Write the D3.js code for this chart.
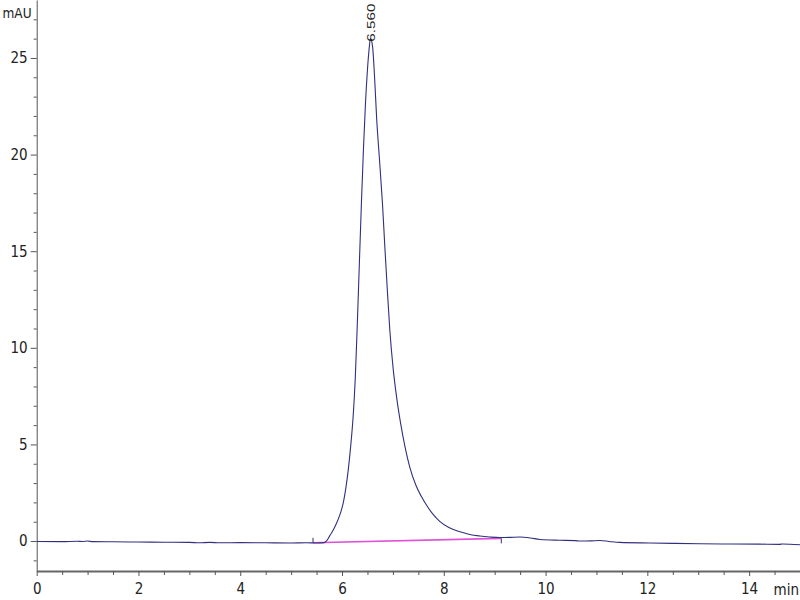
<!DOCTYPE html>
<html>
<head>
<meta charset="utf-8">
<script src="https://cdn.jsdelivr.net/npm/d3@7"></script>
<style>
html,body{margin:0;padding:0;background:#fff;}
svg{display:block;}
.lbl{font-family:"Liberation Sans Narrow","DejaVu Sans Condensed","Liberation Sans",Arial,sans-serif;font-size:15px;fill:#222;}
</style>
</head>
<body>
<svg id="chart" width="800" height="600"></svg>
<script>
// Chromatogram signal (time in min, absorbance in mAU)
const timeMin = [0, 0.5, 0.8, 0.9, 1.0, 1.1, 1.5, 2.0, 2.5, 3.0, 3.2, 3.4, 3.6, 4.0, 4.5, 5.0, 5.3, 5.5, 5.65,
  5.7, 5.76, 5.83, 5.894, 5.95, 6.024, 6.07, 6.122, 6.17, 6.22, 6.26, 6.30, 6.34, 6.38, 6.42, 6.46, 6.50, 6.53, 6.56,
  6.60, 6.64, 6.68, 6.74, 6.794, 6.84, 6.888, 6.94, 7.006, 7.07, 7.151, 7.24, 7.334, 7.45, 7.56, 7.662, 7.79, 7.92,
  8.1, 8.32, 8.51, 8.71, 8.9, 9.1, 9.3, 9.5, 9.7, 9.89, 10.28, 10.58, 10.68, 10.9, 11.07, 11.25, 11.46, 12.05,
  12.5, 13.03, 13.5, 14.21, 14.6, 14.65, 15.0];
const signalMAU = [-0.02, -0.03, -0.01, -0.02, 0.0, -0.03, -0.04, -0.05, -0.06, -0.07, -0.09, -0.07, -0.09, -0.08, -0.09, -0.1, -0.09, -0.1, -0.08,
  0.02, 0.28, 0.58, 0.93, 1.3, 1.97, 2.65, 3.67, 4.9, 6.5, 8.4, 11.2, 14.3, 17.4, 20.2, 22.6, 24.4, 25.4, 26.0,
  25.6, 24.0, 21.9, 19.6, 17.5, 15.3, 13.1, 10.9, 8.9, 7.5, 6.1, 4.85, 3.8, 2.9, 2.3, 1.85, 1.38, 1.02,
  0.7, 0.48, 0.34, 0.26, 0.21, 0.18, 0.19, 0.21, 0.16, 0.08, 0.04, 0.02, 0.0, 0.01, 0.03, -0.02, -0.07, -0.1,
  -0.12, -0.14, -0.15, -0.16, -0.17, -0.15, -0.19];

// Integration baseline (start, end)
const baselineT = [5.43, 9.13];
const baselineV = [-0.09, 0.14];

// Peak annotation
const peakTime = 6.56;
const peakHeight = 26.0;
const peakLabel = "6.560";

// Axes
const xTickLabels = [0, 2, 4, 6, 8, 10, 12, 14];
const xMinorTicks = [0.5, 1, 1.5, 2.5, 3, 3.5, 4.5, 5, 5.5, 6.5, 7, 7.5, 8.5, 9, 9.5, 10.5, 11, 11.5, 12.5, 13, 13.5, 14.5];
const yTickLabels = [0, 5, 10, 15, 20, 25];
const yMinorTicks = [-1, 1, 2, 3, 4, 6, 7, 8, 9, 11, 12, 13, 14, 16, 17, 18, 19, 21, 22, 23, 24, 26, 27];
const xUnit = "min";
const yUnit = "mAU";

const svg = d3.select("#chart");
const x = d3.scaleLinear().domain([0, 15]).range([36.7, 800]);
const y = d3.scaleLinear().domain([-1.55, 28]).range([571, 0]);

// Y axis
const gy = svg.append("g").attr("transform", `translate(${x(0)},0)`);
gy.call(d3.axisLeft(y).tickValues(yTickLabels).tickSize(6).tickSizeOuter(0).tickPadding(3).tickFormat(d3.format("d")));
const gyMinor = svg.append("g").attr("transform", `translate(${x(0)},0)`);
gyMinor.call(d3.axisLeft(y).tickValues(yMinorTicks).tickSize(3).tickSizeOuter(0).tickFormat(""));
gyMinor.select(".domain").remove();
gy.select(".domain").attr("stroke", "#555");
[gy, gyMinor].forEach(g => g.selectAll(".tick line").attr("stroke", "#555"));
gy.selectAll(".tick text").attr("class", "lbl");
gy.attr("font-size", null).attr("font-family", null);

// X axis
const gx = svg.append("g").attr("transform", `translate(0,${y.range()[0]})`);
gx.call(d3.axisBottom(x).tickValues(xTickLabels).tickSize(5).tickSizeOuter(0).tickPadding(7).tickFormat(d3.format("d")));
const gxMinor = svg.append("g").attr("transform", `translate(0,${y.range()[0]})`);
gxMinor.call(d3.axisBottom(x).tickValues(xMinorTicks).tickSize(4).tickSizeOuter(0).tickFormat(""));
gxMinor.select(".domain").remove();
gx.select(".domain").attr("stroke", "#666").attr("stroke-width", 2);
[gx, gxMinor].forEach(g => g.selectAll(".tick line").attr("stroke", "#555"));
gx.selectAll(".tick text").attr("class", "lbl");
gx.attr("font-size", null).attr("font-family", null);

// Unit labels
svg.append("text").attr("class", "lbl").attr("x", 2.5).attr("y", 18).style("font-size", "13.5px").text(yUnit);
svg.append("text").attr("class", "lbl").attr("x", 799).attr("y", 595).attr("text-anchor", "end").text(xUnit);

// Baseline (integration)
svg.append("line")
  .attr("x1", x(baselineT[0])).attr("y1", y(baselineV[0]))
  .attr("x2", x(baselineT[1])).attr("y2", y(baselineV[1]))
  .attr("stroke", "#e050d8").attr("stroke-width", 1.6);

// Signal line
const pts = timeMin.map((t, i) => [t, signalMAU[i]]);
const line = d3.line().x(d => x(d[0])).y(d => y(d[1])).curve(d3.curveMonotoneX);
svg.append("path").datum(pts).attr("d", line)
  .attr("fill", "none").attr("stroke", "#30307f").attr("stroke-width", 1.1);

// Peak start / end markers
svg.append("line").attr("x1", x(baselineT[0])).attr("x2", x(baselineT[0]))
  .attr("y1", y(baselineV[0]) - 5).attr("y2", y(baselineV[0]))
  .attr("stroke", "#30307f").attr("stroke-width", 1);
svg.append("line").attr("x1", x(baselineT[1])).attr("x2", x(baselineT[1]))
  .attr("y1", y(baselineV[1])).attr("y2", y(baselineV[1]) + 5)
  .attr("stroke", "#30307f").attr("stroke-width", 1);

// Peak label
svg.append("text")
  .attr("transform", `translate(${x(peakTime) + 4},${y(peakHeight) + 3}) rotate(-90)`)
  .attr("text-anchor", "start")
  .attr("font-family", "'Liberation Sans', Arial, sans-serif")
  .attr("font-size", 11.5)
  .attr("textLength", 38).attr("lengthAdjust", "spacingAndGlyphs")
  .attr("fill", "#222")
  .text(peakLabel);
</script>
</body>
</html>
